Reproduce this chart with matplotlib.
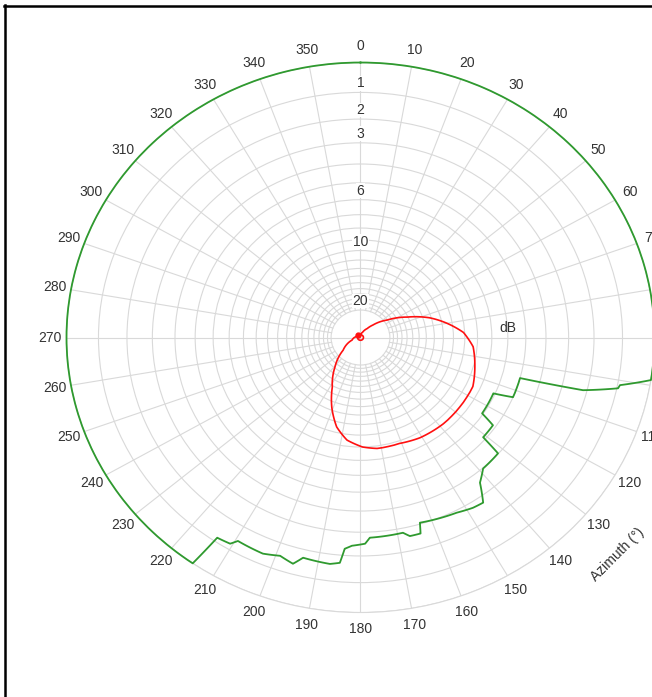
import numpy as np
import matplotlib.pyplot as plt
from matplotlib.lines import Line2D

plt.rcParams['font.family'] = ['Liberation Sans', 'DejaVu Sans']

# azimuth (deg) / attenuation (dB)
green_az = [0, 10, 20, 30, 40, 50, 60, 70, 80, 90, 98.9, 101.1, 101.9, 104.2,
            105.2, 112.7, 114.2, 123.7, 125.3, 131, 132, 138.8, 142.4, 145.2,
            148.3, 152.8, 163.3, 164, 166.9, 168.5, 177.5, 178.8, 182.2, 184,
            184.9, 187.2, 193.7, 195.6, 199, 202.9, 209.4, 210.6, 213.8, 214.8,
            220, 230, 240, 250, 260, 270, 280, 290, 300, 310, 320, 330, 340,
            350, 360]
green_db = [0, 0, 0, 0, 0, 0, 0, 0, 0, 0, 0, 0.92, 0.96, 2.15,
            5.0, 5.0, 6.1, 6.07, 5.16, 5.15, 4.02, 3.97, 3.53, 2.72,
            2.76, 2.9, 3.06, 2.6, 2.6, 2.8, 2.75, 2.5, 2.41, 2.27,
            1.7, 1.62, 1.68, 1.37, 1.52, 1.38, 1.42, 1.2, 1.15, 0,
            0, 0, 0, 0, 0, 0, 0, 0, 0, 0, 0, 0, 0,
            0, 0]

red_az = [317, 340, 0, 20, 35, 43, 55, 65, 73, 80, 87, 95, 105, 115, 127, 138,
          151, 161, 172, 179, 187, 194, 201, 208, 219, 232, 252, 280, 317]
red_db = [38, 40, 40, 34, 28, 24.1, 19.1, 15.1, 12.2, 10.5, 9.1, 8.3, 7.9, 7.5,
          7.5, 7.5, 7.6, 7.8, 7.8, 8.0, 8.5, 9.5, 11.3, 13.8, 17.2, 22.5, 30.4,
          36, 38]

ring_db = np.arange(0, 21)
ring_labels = [1, 2, 3, 6, 10, 20]
az_ticks = np.arange(0, 360, 10)


def to_r(db):
    return 10 ** (-np.asarray(db, dtype=float) / 20)


grid_c = '#d9d9d9'
text_c = '#333333'

fig = plt.figure(figsize=(6.52, 6.97), dpi=100)
ax = fig.add_axes([0.102, 0.1212, 0.9018, 0.7891], projection='polar')
ax.set_aspect('auto')
ax.set_theta_zero_location('N')
ax.set_theta_direction(-1)
ax.set_ylim(0, 1)

ax.set_yticks(to_r(ring_db))
ax.set_yticklabels([])
ax.yaxis.grid(True, color=grid_c, lw=0.8)
ax.xaxis.grid(False)
ax.set_xticks(np.deg2rad(az_ticks))
ax.set_xticklabels([str(a) for a in az_ticks], fontsize=10, color=text_c)
ax.tick_params(axis='x', pad=5, length=0)
ax.tick_params(axis='y', length=0)
ax.spines['polar'].set_color(grid_c)
ax.spines['polar'].set_linewidth(0.8)

# spokes: short ones stop at the 20 dB ring
for a in az_ticks:
    r0 = 0 if a % 90 == 0 else to_r(20)
    ax.plot([np.deg2rad(a)] * 2, [r0, 1], color=grid_c, lw=0.8, zorder=1)

for lb in ring_labels:
    ax.annotate(str(lb), xy=(0, to_r(lb)), xytext=(0, 6.5),
                textcoords='offset points', ha='center', va='center',
                fontsize=10, color=text_c, zorder=3,
                bbox=dict(fc='white', ec='none', pad=0.3))

ax.annotate('dB', xy=(np.deg2rad(90), 0.502), xytext=(0, 7),
            textcoords='offset points', ha='center', va='center',
            fontsize=10, color=text_c)

g_line, = ax.plot(np.deg2rad(green_az), to_r(green_db), color='#2f9a2f',
                  lw=1.3, clip_on=False, zorder=4)
r_line, = ax.plot(np.deg2rad(red_az), to_r(red_db), color='#ff1010', lw=1.2,
                  marker='o', ms=3.5, markevery=[0], zorder=5)
# draw segments as arcs in polar space
for ln in (g_line, r_line):
    ln.get_path()._interpolation_steps = 40

fig.text(617 / 652, 1 - 555 / 697, 'Azimuth (°)', rotation=45,
         ha='center', va='center', fontsize=10, color=text_c)

# black frame on top and left
fig.add_artist(Line2D([4 / 652, 1], [1 - 6 / 697] * 2,
                      transform=fig.transFigure, color='black', lw=1.8))
fig.add_artist(Line2D([4.5 / 652] * 2, [0, 1 - 5 / 697],
                      transform=fig.transFigure, color='black', lw=1.8))

fig.savefig('out.png', dpi=100)
